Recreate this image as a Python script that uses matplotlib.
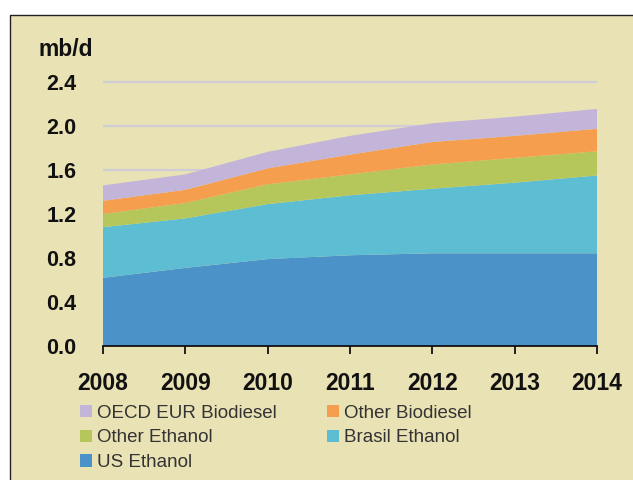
import matplotlib.pyplot as plt
from matplotlib.patches import Rectangle

plt.rcParams['font.family'] = ['Liberation Sans', 'DejaVu Sans']

years = [2008, 2009, 2010, 2011, 2012, 2013, 2014]
us_ethanol = [0.62, 0.71, 0.79, 0.825, 0.843, 0.843, 0.843]
brasil_ethanol = [0.46, 0.45, 0.50, 0.545, 0.587, 0.642, 0.707]
other_ethanol = [0.12, 0.14, 0.18, 0.19, 0.22, 0.225, 0.22]
other_biodiesel = [0.12, 0.12, 0.145, 0.18, 0.205, 0.20, 0.205]
oecd_biodiesel = [0.14, 0.14, 0.15, 0.17, 0.17, 0.175, 0.18]

labels = ['US Ethanol', 'Brasil Ethanol', 'Other Ethanol',
          'Other Biodiesel', 'OECD EUR Biodiesel']
colors = ['#4b92c9', '#5cbdd3', '#b5c75b', '#f59e4d', '#c3b4d9']
yticks = [0.0, 0.4, 0.8, 1.2, 1.6, 2.0, 2.4]

bg = '#e9e2b5'

fig = plt.figure(figsize=(6.33, 4.8), dpi=100)
fig.patch.set_facecolor('white')

# beige panel with a dark frame on the left and top
panel = Rectangle((10 / 633, -0.1), 1.2, 0.96875 + 0.1,
                  transform=fig.transFigure, facecolor=bg,
                  edgecolor='#222222', linewidth=1.0, zorder=-5)
fig.patches.append(panel)

ax = fig.add_axes([103 / 633, 1 - 346 / 480, 494 / 633, (346 - 79.8) / 480])
ax.set_facecolor('none')
ax.set_zorder(1)

polys = ax.stackplot(years, us_ethanol, brasil_ethanol, other_ethanol,
                     other_biodiesel, oecd_biodiesel,
                     colors=colors, labels=labels, linewidth=0, zorder=2)

ax.set_xlim(2008, 2014)
ax.set_ylim(0, 2.42)
ax.set_xticks(years)
ax.set_xticklabels([str(y) for y in years])
ax.set_yticks(yticks)
ax.set_yticklabels(['%.1f' % v for v in yticks])

ax.grid(axis='y', color='#cfcdd6', linewidth=1.6, zorder=1)
ax.set_axisbelow(True)

for side in ['left', 'right', 'top']:
    ax.spines[side].set_visible(False)
ax.spines['bottom'].set_color('#111111')
ax.spines['bottom'].set_linewidth(1.3)
ax.spines['bottom'].set_zorder(3)

ax.tick_params(axis='x', direction='out', length=6, width=1.3,
               color='#111111', labelcolor='#111111', pad=12.5, labelsize=16.5)
ax.tick_params(axis='y', length=0, pad=19, labelsize=15.5, labelcolor='#111111')
for t in ax.get_xticklabels() + ax.get_yticklabels():
    t.set_fontweight('bold')

fig.text(38 / 633, 1 - 56 / 480, 'mb/d', fontsize=16.5, fontweight='bold',
         color='#111111', va='baseline', ha='left')

# legend: two columns, read row by row from the top series down
order = [4, 2, 0, 3, 1]
handles = [polys[i] for i in order]
leg = fig.legend(handles, [labels[i] for i in order], ncol=2,
                 loc='upper left', bbox_to_anchor=(80 / 633, 1 - 404.5 / 480),
                 frameon=False, fontsize=13.5, handlelength=0.65,
                 handleheight=0.65, handletextpad=0.25, columnspacing=2.7,
                 labelspacing=0.42, borderpad=0, borderaxespad=0)
for t in leg.get_texts():
    t.set_color('#333333')

fig.savefig('out.png', dpi=100, facecolor='white')
